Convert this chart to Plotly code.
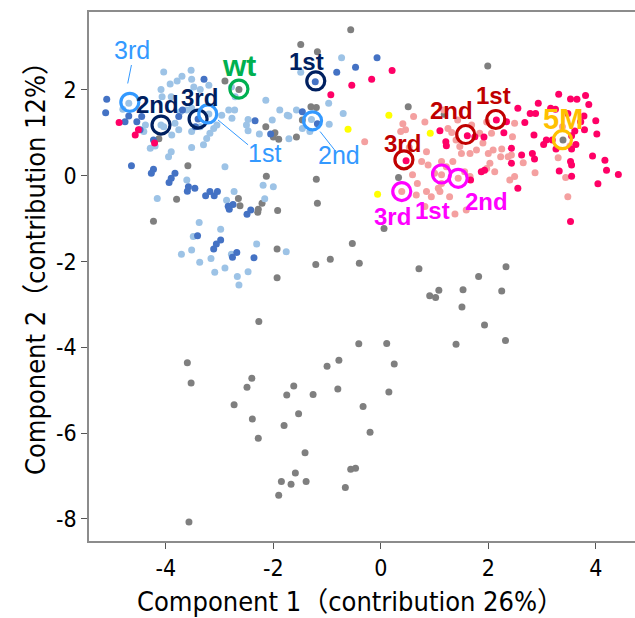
import plotly.graph_objects as go

# ---------------- data (Component 1, Component 2) ----------------
gray_x = [-0.56, -1.49, -1.18, 1.99, -2.90, -2.64, -4.13, -3.59, -1.30, -1.20, 0.51, 1.18, -1.46, -2.14, -1.97,
          -2.00, -1.90, -1.57, -2.13, -1.20, -3.80, -2.65, -2.62, -2.29, -2.28, -2.21, -1.92, -1.18, 0.33, 0.06,
          -4.23, -1.93, -1.93, -1.21, -0.94, -0.40, -0.53, -2.27, -0.41, 0.11, -3.60, -0.78, -1.00, -2.40, -3.53,
          -2.49, -1.62, -1.75, -1.26, -0.80, 0.15, -2.73, -0.33, -1.53, -2.39, -1.80, -0.20, -2.28, -1.41, -1.59,
          -0.56, -0.47, -1.85, -1.67, -1.39, -0.66, -1.90, -3.57, 0.71, 2.33, 1.82, 1.08, 0.91, 1.02, 1.53,
          2.25, 1.51, 1.93, 1.40, 2.32, 0.25, 3.39]
gray_y = [3.40, 3.06, 2.89, 2.56, 2.21, 2.01, 0.86, 0.23, 1.61, 1.59, 1.61, 1.43, 1.30, 1.14, 1.00,
          0.90, 0.85, 0.90, -0.01, -0.08, -0.55, -0.53, -0.70, -0.85, -0.78, -0.64, -0.81, -0.64, -0.04, -1.23,
          -1.06, -1.71, -2.38, -2.07, -1.95, -2.04, -1.58, -3.40, -3.92, -3.91, -4.36, -4.30, -4.44, -4.72, -4.83,
          -4.93, -4.90, -5.11, -5.10, -4.97, -5.04, -5.34, -5.38, -5.55, -5.67, -5.82, -5.98, -6.12, -6.46, -6.93,
          -6.84, -6.82, -7.13, -7.19, -7.13, -7.27, -7.45, -8.07, -2.17, -2.12, -2.35, -2.67, -2.80, -2.84, -2.66,
          -2.69, -3.06, -3.48, -3.93, -3.84, -4.39, 0.83]

lightblue_x = [-4.04, -3.70, -3.53, -3.52, -3.79, -3.92, -2.78, -3.48, -3.36, -3.20, -4.09, -4.80, -4.38, -4.41,
               -4.07, -3.90, -3.73, -3.61, -3.52, -3.83, -3.76, -3.89, -4.04, -4.29, -4.20, -3.90, -3.95, -3.52,
               -3.52, -3.36, -3.30, -3.24, -3.18, -3.11, -3.05, -2.96, -2.83, -2.77, -2.90, -2.71, -3.61, -4.69,
               -3.20, -4.09, -4.16, -2.73, -2.87, -2.72, -1.49, -0.97, -0.70, -2.14, -1.88, -1.74, -1.71, -1.57,
               -1.46, -1.29, -1.32, -0.96, -2.02, -2.26, -1.71, -2.47, -2.50, -2.47, -2.19, -2.00, -0.73, -2.16,
               -3.38, -2.98, -3.49, -3.52, -3.71, -3.37, -3.16, -2.78, -2.31, -1.76, -3.09, -2.90, -2.47, -2.67,
               -2.64]
lightblue_y = [2.42, 2.32, 2.46, 2.25, 2.21, 2.14, 2.07, 2.07, 2.01, 2.11, 2.01, 1.55, 1.18, 1.03,
               1.84, 1.84, 1.49, 1.53, 1.57, 1.22, 1.07, 0.95, 1.14, 0.64, 0.69, 0.56, 0.44, 0.66,
               1.03, 1.14, 0.72, 0.87, 0.99, 1.10, 1.18, 1.41, 1.53, 1.34, 0.21, 1.84, -0.10, 1.69,
               1.44, 1.18, -0.53, -0.37, -0.57, 1.53, 2.41, 1.69, 1.45, 1.76, 1.53, 1.41, 1.39, 1.53,
               1.10, 1.31, 1.03, 1.20, 1.30, 0.97, 0.86, 1.31, 1.18, 1.05, -0.22, -0.26, 2.75, -0.54,
               -1.09, -1.25, -1.42, -1.73, -1.83, -2.02, -1.93, -1.83, -1.59, -1.77, -2.25, -2.15, -2.24, -2.35,
               -2.55]

darkblue_x = [-3.29, -5.10, -5.12, -4.69, -4.76, -4.54, -4.45, -4.48, -3.69, -3.76, -4.23, -3.45, -3.40, -4.64,
              -4.23, -4.27, -3.83, -3.90, -3.58, -3.94, -3.60, -3.46, -3.26, -3.18, -3.10, -3.04, -2.84, -2.82,
              -2.75, -2.49, -2.42, -3.41, -2.98, -3.06, -3.11, -2.68, -2.76, -2.36, -0.82, -0.47, -1.22, -0.07,
              -1.46, -1.18, -2.05, -2.34]
darkblue_y = [2.25, 1.78, 1.47, 1.39, 1.26, 1.26, 1.38, 1.07, 1.53, 1.38, 0.83, 1.14, 1.32, 0.23,
              0.15, 0.06, 0.06, -0.06, -0.26, -0.16, -0.36, -0.29, -0.47, -0.37, -0.47, -0.37, -0.71, -0.78,
              -0.67, -0.90, -0.80, -1.40, -1.50, -1.59, -1.71, -1.79, -1.90, -1.91, 2.41, 2.53, 2.19, 2.75,
              1.49, 1.21, 0.97, 1.28]

salmon_x = [-0.30, 0.61, 0.41, 0.37, 0.46, 1.25, 1.32, 1.47, 2.06, 1.84, 1.90, 1.78, 1.66, 1.50, 2.00, 2.09,
            2.25, 2.37, 2.23, 2.03, 1.97, 2.12, 2.40, 2.49, 0.85, 0.76, 0.88, 0.68, 0.39, 0.85, 0.94, 1.13,
            1.13, 1.07, 1.44, 1.66, 1.56, 1.22, 1.34, 1.13, 1.00, 0.59, 0.66, 1.10, 1.28, 1.38, 1.59, 0.82,
            0.53, 1.40, 1.69, 1.97, 1.43, 1.17, 0.82, 2.49, 2.45, 2.43, 2.65, 3.38, 3.52, 3.30, 2.87, 3.44,
            3.48]
salmon_y = [0.79, 1.38, 1.21, 1.03, 1.07, 1.10, 1.01, 0.68, 0.99, 0.99, 0.76, 0.60, 0.52, 0.52, 0.52, 0.60,
            0.62, 0.44, 0.44, 0.29, 0.17, 0.09, -0.10, -0.02, 0.56, 0.33, 0.25, -0.18, -0.37, -0.37, -0.49, 0.02,
            -0.18, -0.29, -0.06, -0.02, 0.09, 0.21, 0.33, 0.33, 0.06, 0.02, -0.45, -0.37, -0.49, -0.89, -0.80, -0.72,
            0.66, 0.83, 1.18, 1.25, 1.30, 1.53, 1.25, 1.22, 0.91, 0.48, 0.30, 1.14, 0.69, 0.42, 0.07, -0.04,
            -0.49]

crimson_x = [-4.87, -4.57, -4.51, -4.21, 0.21, -0.17, -0.54, -0.93, 1.21, 1.22, 1.61, 1.75, 2.15, 2.29, 2.43,
             1.87, 2.55, 0.47, 1.67, 1.10, 1.92, 2.34, 1.93, 2.43, 3.31, 3.53, 3.65, 3.81, 3.87, 2.93, 2.55,
             3.16, 3.25, 2.78, 2.88, 3.48, 3.78, 3.72, 4.00, 2.68, 3.61, 3.79, 3.55, 4.02, 2.85, 3.08, 3.19,
             3.03, 3.63, 3.55, 3.26, 2.62, 2.82, 2.86, 3.94, 4.17, 3.53, 3.55, 3.32, 3.55, 4.20, 4.42, 4.04,
             3.53]
crimson_y = [1.24, 0.95, 1.07, 0.76, 2.45, 2.25, 2.11, 1.89, 0.79, 0.70, 0.93, 0.91, 1.30, 1.00, 0.64,
             0.09, -0.29, 0.35, -0.10, 1.05, 0.90, 1.26, 0.13, 0.29, 1.90, 1.79, 1.78, 1.87, 1.66, 1.69, 1.57,
             1.57, 1.55, 1.45, 1.45, 1.45, 1.39, 1.26, 1.28, 1.24, 1.04, 1.07, 0.93, 0.97, 0.95, 0.83, 0.83,
             0.73, 0.73, 0.62, 0.62, 0.48, 0.52, 0.39, 0.46, 0.36, 0.33, 0.25, 0.11, -0.01, 0.13, 0.03, -0.19,
             -1.07]

yellow_x = [0.15, 0.92, -0.61, -0.06]
yellow_y = [1.41, 0.99, 1.08, -0.43]

# highlighted groups
lb_labels = ["3rd", "1st", "2nd"]
lb_x = [-4.67, -3.22, -1.27]
lb_y = [1.71, 1.44, 1.28]
lb_lx = [-4.63, -2.16, -0.78]
lb_ly = [2.93, 0.53, 0.48]

navy_labels = ["2nd", "3rd", "1st"]
navy_x = [-4.09, -3.40, -1.21]
navy_y = [1.18, 1.32, 2.21]
navy_lx = [-4.15, -3.37, -1.38]
navy_ly = [1.67, 1.83, 2.67]

red_labels = ["3rd", "2nd", "1st"]
red_x = [0.43, 1.58, 2.14]
red_y = [0.37, 0.96, 1.31]
red_lx = [0.41, 1.32, 2.10]
red_ly = [0.76, 1.51, 1.88]

mag_labels = ["3rd", "1st", "2nd"]
mag_x = [0.39, 1.13, 1.44]
mag_y = [-0.37, 0.04, -0.06]
mag_lx = [0.22, 0.97, 1.97]
mag_ly = [-0.96, -0.80, -0.61]

wt_x, wt_y, wt_lx, wt_ly = [-2.64], [2.02], -2.64, 2.56
m5_x, m5_y, m5_lx, m5_ly = [3.38], [0.84], 3.39, 1.32

# leader lines for light-blue labels (x0, y0, x1, y1)
leaders = [(-4.64, 2.58, -4.71, 2.15), (-3.03, 1.30, -2.47, 0.72), (-1.13, 1.03, -0.86, 0.60)]

x_ticks = [-4, -2, 0, 2, 4]
x_ticktext = ["-4", "-2", "0", "2", "4"]
y_ticks = [-8, -6, -4, -2, 0, 2]
y_ticktext = ["-8", "-6", "-4", "-2", "0", "2"]

# ---------------- figure ----------------
GRAY = "#7f7f7f"
LB = "#9dc3e6"
DB = "#4472c4"
SAL = "#f4a0a0"
CRIM = "#ff0066"
YEL = "#ffff00"

fig = go.Figure()

def dots(x, y, color):
    fig.add_trace(go.Scatter(x=x, y=y, mode="markers", hoverinfo="skip",
                             marker=dict(size=7, color=color, line=dict(width=0))))

dots(gray_x, gray_y, GRAY)
dots(lightblue_x, lightblue_y, LB)
dots(darkblue_x, darkblue_y, DB)
dots(salmon_x, salmon_y, SAL)
dots(crimson_x, crimson_y, CRIM)
dots(yellow_x, yellow_y, YEL)

def rings(x, y, color):
    fig.add_trace(go.Scatter(x=x, y=y, mode="markers", hoverinfo="skip",
                             marker=dict(symbol="circle-open", size=18, color=color,
                                         line=dict(width=3.2, color=color))))

LBR = "#3399ff"
NAVY = "#002060"
DRED = "#c00000"
MAG = "#ff00ff"
GRN = "#00b050"
ORG = "#ffc000"

for (x0, y0, x1, y1) in leaders:
    fig.add_shape(type="line", x0=x0, y0=y0, x1=x1, y1=y1, xref="x", yref="y",
                  line=dict(color=LBR, width=1))

rings(navy_x, navy_y, NAVY)
rings(lb_x, lb_y, LBR)
rings(red_x, red_y, DRED)
rings(mag_x, mag_y, MAG)
rings(wt_x, wt_y, GRN)
rings(m5_x, m5_y, ORG)

LFONT = "Liberation Sans, Arial, sans-serif"

def labels(texts, lx, ly, color, bold=True, size=23):
    for t, a, b in zip(texts, lx, ly):
        txt = f"<b>{t}</b>" if bold else t
        fig.add_annotation(x=a, y=b, text=txt, showarrow=False, xref="x", yref="y",
                           xanchor="center", yanchor="middle",
                           font=dict(family=LFONT, size=size, color=color))

labels(lb_labels, lb_lx, lb_ly, LBR, bold=False, size=25)
labels(navy_labels, navy_lx, navy_ly, NAVY, size=24)
labels(red_labels, red_lx, red_ly, DRED, size=24)
labels(mag_labels, mag_lx, mag_ly, MAG, size=24)
labels(["wt"], [wt_lx], [wt_ly], GRN, size=30)
labels(["5M"], [m5_lx], [m5_ly], ORG, size=29)

TFONT = "Liberation Sans Narrow, DejaVu Sans Condensed, Liberation Sans, Noto Sans CJK JP, sans-serif"

fig.add_annotation(text="Component 1（contribution 26%）", xref="paper", yref="paper",
                   x=(350 - 89) / 546, y=-(601 - 541) / 529, showarrow=False,
                   xanchor="center", yanchor="middle",
                   font=dict(family=TFONT, size=27, color="#000"))
fig.add_annotation(text="Component 2（contribution 12%）", xref="paper", yref="paper",
                   x=-(89 - 35) / 546, y=(541 - 262) / 529, showarrow=False, textangle=-90,
                   xanchor="center", yanchor="middle",
                   font=dict(family=TFONT, size=27, color="#000"))

fig.update_layout(
    width=635, height=618,
    margin=dict(l=89, r=0, t=12, b=77),
    paper_bgcolor="white", plot_bgcolor="white",
    showlegend=False,
    xaxis=dict(range=[-5.43, 4.73], tickvals=x_ticks, ticktext=x_ticktext,
               showgrid=False, zeroline=False, showline=True, linecolor="#8c8c8c", linewidth=1.5,
               mirror=True, ticks="outside", ticklen=6, tickcolor="#555",
               tickfont=dict(family=TFONT, size=23, color="#000")),
    yaxis=dict(range=[-8.515, 3.816], tickvals=y_ticks, ticktext=y_ticktext,
               showgrid=False, zeroline=False, showline=True, linecolor="#8c8c8c", linewidth=1.5,
               ticks="outside", ticklen=6, tickcolor="#555",
               tickfont=dict(family=TFONT, size=23, color="#000")),
)

fig.write_html("out.html")
